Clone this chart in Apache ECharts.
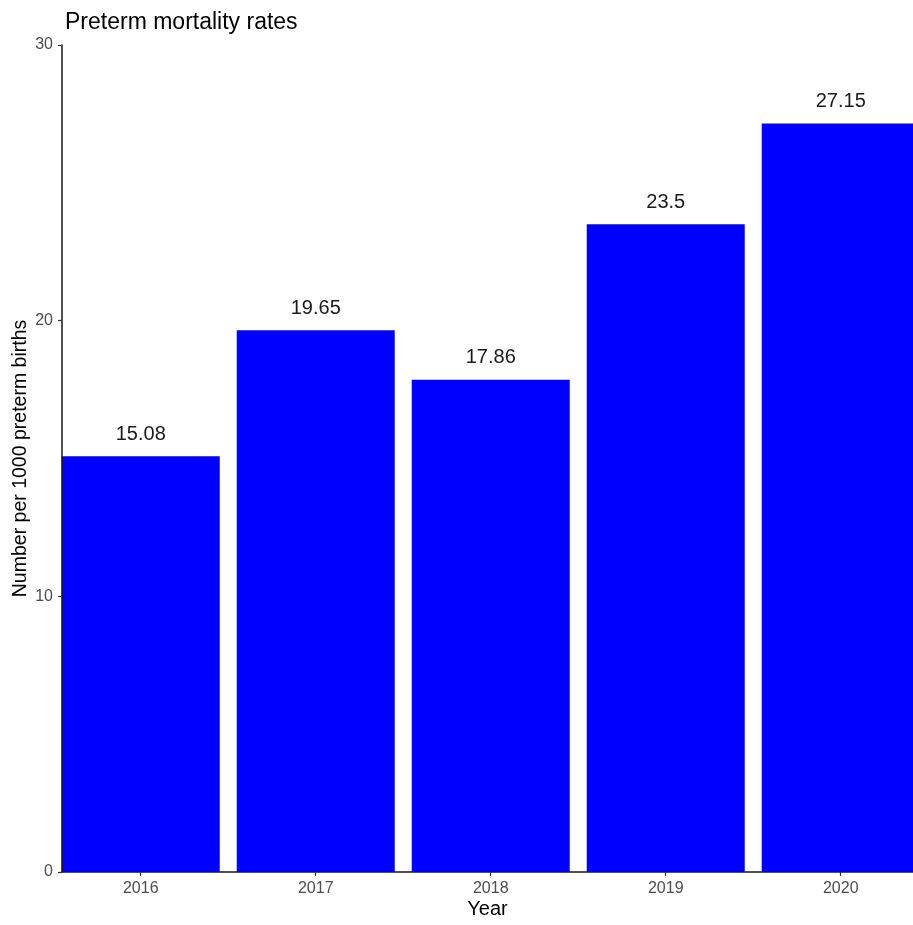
<!DOCTYPE html>
<html>
<head>
<meta charset="utf-8">
<script src="https://cdn.jsdelivr.net/npm/echarts@6/dist/echarts.min.js"></script>
<style>html,body{margin:0;padding:0;background:#fff;}#c{width:913px;height:925px;}</style>
</head>
<body>
<div id="c"></div>
<script>
var years = ['2016', '2017', '2018', '2019', '2020'];
var rates = [15.08, 19.65, 17.86, 23.5, 27.15];
var yTicks = [0, 10, 20, 30];

var positions = years.map(function (y, i) { return i + 1; });
var data = rates.map(function (v, i) { return [positions[i], v]; });

var FONT = 'Liberation Sans, Arial, sans-serif';
var chart = echarts.init(document.getElementById('c'), null, { renderer: 'canvas' });
chart.setOption({
  animation: false,
  backgroundColor: '#ffffff',
  textStyle: { fontFamily: FONT },
  title: {
    text: 'Preterm mortality rates',
    left: 60, top: 6,
    textStyle: { fontSize: 23, fontWeight: 'normal', color: '#000000', fontFamily: FONT }
  },
  grid: { left: 62, right: 0, top: 45, bottom: 53, outerBoundsMode: 'none' },
  xAxis: {
    type: 'value',
    min: 0.55, max: 5.413,
    z: 10,
    name: 'Year', nameLocation: 'middle', nameGap: 27, nameMoveOverlap: false,
    nameTextStyle: { fontSize: 20, color: '#000000', verticalAlign: 'top' },
    axisLine: { show: true, onZero: false, lineStyle: { color: '#1a1a1a', width: 1.5 } },
    axisTick: { show: true, length: 4, customValues: positions, lineStyle: { color: '#333333', width: 1.2 } },
    axisLabel: {
      customValues: positions, margin: 9, fontSize: 16, color: '#4d4d4d',
      formatter: function (v) { return years[Math.round(v) - 1]; }
    },
    splitLine: { show: false }
  },
  yAxis: {
    type: 'value',
    min: yTicks[0], max: yTicks[yTicks.length - 1], interval: 10,
    z: 10,
    name: 'Number per 1000 preterm births', nameLocation: 'middle', nameGap: 31, nameMoveOverlap: false,
    nameTextStyle: { fontSize: 19.5, color: '#000000' },
    axisLine: { show: true, lineStyle: { color: '#1a1a1a', width: 1.5 } },
    axisTick: { show: true, length: 4, lineStyle: { color: '#333333', width: 1.2 } },
    axisLabel: { margin: 9, fontSize: 16, color: '#4d4d4d' },
    splitLine: { show: false }
  },
  series: [{
    type: 'bar',
    data: data,
    barWidth: 158,
    itemStyle: { color: '#0000ff' },
    label: {
      show: true, position: 'top', distance: 12,
      fontSize: 20, color: '#1a1a1a',
      formatter: function (p) { return String(p.value[1]); }
    }
  }]
});
</script>
</body>
</html>
